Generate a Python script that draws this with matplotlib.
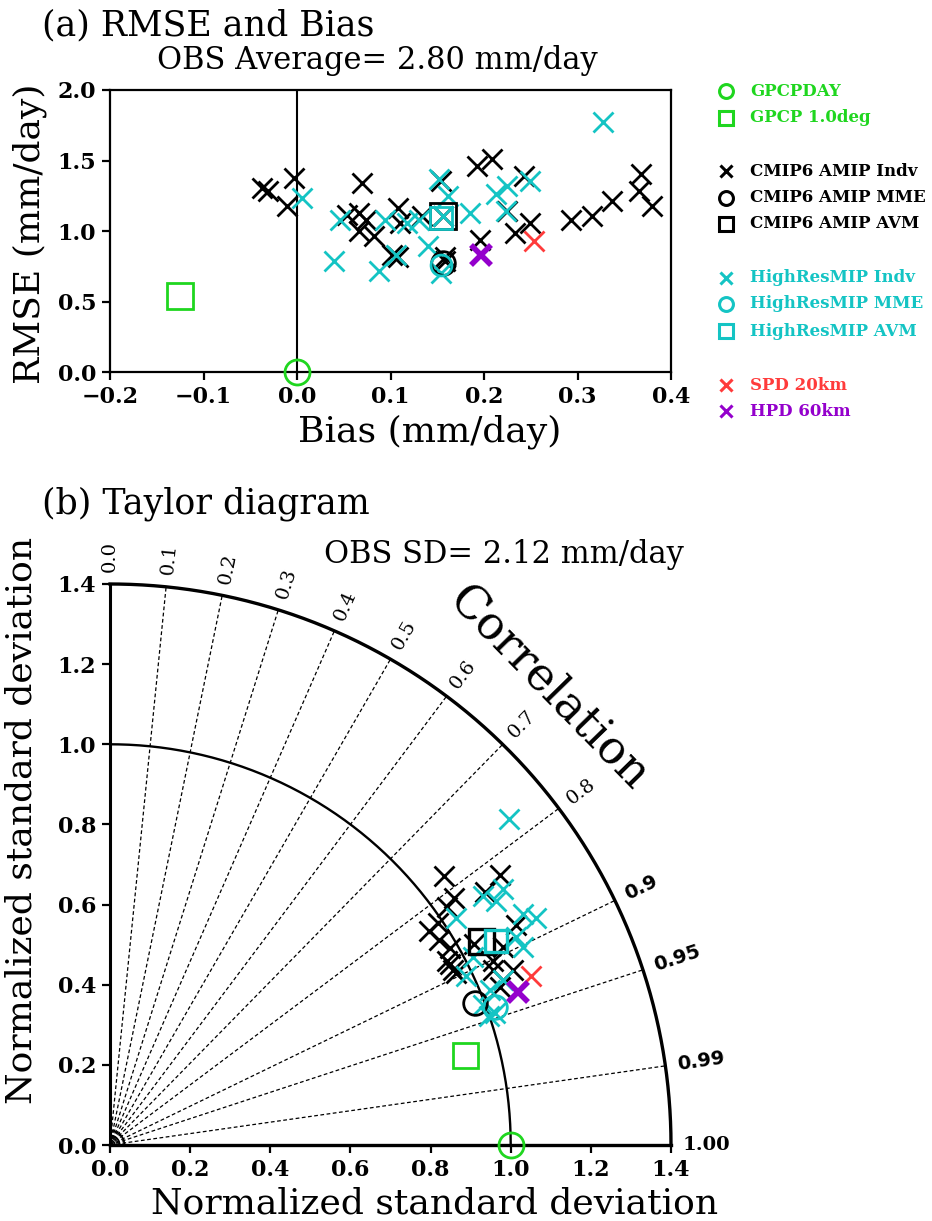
import numpy as np
import matplotlib.pyplot as plt

# ---------------- (a) RMSE and Bias data ----------------
cmip_bias = [-0.037, -0.031, -0.003, -0.011, 0.070, 0.054, 0.066, 0.074, 0.066, 0.082,
             0.108, 0.110, 0.102, 0.108, 0.134, 0.154, 0.158, 0.193, 0.209, 0.196,
             0.225, 0.233, 0.249, 0.243, 0.293, 0.315, 0.337, 0.368, 0.366, 0.380,
             0.156, 0.158]
cmip_rmse = [1.306, 1.283, 1.373, 1.176, 1.342, 1.116, 1.128, 1.081, 0.998, 0.962,
             1.164, 1.057, 0.831, 0.819, 1.105, 1.354, 0.819, 1.461, 1.508, 0.938,
             1.140, 0.986, 1.057, 1.390, 1.081, 1.105, 1.211, 1.401, 1.283, 1.176,
             1.105, 0.790]
hr_bias = [0.327, 0.005, 0.040, 0.046, 0.088, 0.094, 0.106, 0.118, 0.130, 0.140,
           0.152, 0.162, 0.154, 0.185, 0.213, 0.225, 0.223, 0.249, 0.156]
hr_rmse = [1.770, 1.235, 0.784, 1.081, 0.713, 1.081, 0.831, 1.057, 1.081, 0.891,
           1.366, 1.247, 0.701, 1.128, 1.259, 1.318, 1.140, 1.354, 1.105]
gpcpday_a = [0.0, 0.0]
gpcp1deg_a = [-0.125, 0.539]
cmip_mme_a = [0.156, 0.772]
cmip_avm_a = [0.156, 1.105]
hr_mme_a = [0.154, 0.760]
hr_avm_a = [0.154, 1.090]
spd_a = [0.253, 0.926]
hpd_a = [0.197, 0.831]

# ---------------- (b) Taylor diagram data (normalized SD, correlation) ----------------
cmip_sd = [1.070, 1.184, 1.056, 1.128, 1.028, 0.958, 0.990, 0.966, 0.982, 0.958,
           0.962, 0.962, 0.965, 1.153, 1.061, 1.097, 1.096, 1.049, 1.051, 1.038]
cmip_cor = [0.778, 0.822, 0.812, 0.829, 0.817, 0.830, 0.828, 0.849, 0.865, 0.877,
            0.883, 0.891, 0.896, 0.879, 0.901, 0.893, 0.917, 0.927, 0.910, 0.876]
hr_sd = [1.286, 1.119, 1.140, 1.169, 1.180, 1.204, 1.034, 1.138, 1.142, 1.020,
         1.063, 1.023, 0.995, 1.000, 1.015, 0.984]
hr_cor = [0.775, 0.832, 0.846, 0.838, 0.873, 0.882, 0.836, 0.890, 0.902, 0.888,
          0.922, 0.926, 0.936, 0.947, 0.946, 0.904]
gpcpday_t = [1.0, 1.0]
gpcp1deg_t = [0.913, 0.969]
cmip_mme_t = [0.976, 0.932]
cmip_avm_t = [1.056, 0.876]
hr_mme_t = [1.020, 0.941]
hr_avm_t = [1.091, 0.884]
spd_t = [1.131, 0.928]
hpd_t = [1.087, 0.936]

corr_ticks = [0.0, 0.1, 0.2, 0.3, 0.4, 0.5, 0.6, 0.7, 0.8, 0.9, 0.95, 0.99, 1.0]
corr_labels = ['0.0', '0.1', '0.2', '0.3', '0.4', '0.5', '0.6', '0.7', '0.8',
               '0.9', '0.95', '0.99', '1.00']

GREEN = '#1fd61f'
CYAN = '#14c4c4'
RED = '#ff3b3b'
PURPLE = '#9400cc'

W, H = 932, 1221
fig = plt.figure(figsize=(W / 100, H / 100), dpi=100)
SERIF = 'DejaVu Serif'


def rect(l, r, t, b):
    return [l / W, 1 - b / H, (r - l) / W, (b - t) / H]


def xy(sd, cor):
    sd = np.asarray(sd)
    cor = np.asarray(cor)
    return sd * cor, sd * np.sqrt(1 - cor ** 2)


# ---------------- panel (a) ----------------
ax = fig.add_axes(rect(110, 671, 90, 372))
ax.axvline(0, color='k', lw=1.5, zorder=1)
ax.plot(cmip_bias, cmip_rmse, 'x', color='k', ms=15, mew=2, ls='none', zorder=3)
ax.plot(hr_bias, hr_rmse, 'x', color=CYAN, ms=15, mew=2, ls='none', zorder=3)
ax.plot(*cmip_avm_a, 's', mfc='none', mec='k', ms=19, mew=2, zorder=4)
ax.plot(*hr_avm_a, 's', mfc='none', mec=CYAN, ms=16, mew=2, zorder=4)
ax.plot(*cmip_mme_a, 'o', mfc='none', mec='k', ms=17, mew=2, zorder=4)
ax.plot(*hr_mme_a, 'o', mfc='none', mec=CYAN, ms=15, mew=2, zorder=4)
ax.plot(*spd_a, 'x', color=RED, ms=15, mew=2, zorder=5)
ax.plot(*hpd_a, 'x', color=PURPLE, ms=15, mew=4, zorder=5)
ax.plot(*gpcp1deg_a, 's', mfc='none', mec=GREEN, ms=19, mew=2, zorder=5)
ax.plot(*gpcpday_a, 'o', mfc='none', mec=GREEN, ms=18, mew=2, zorder=5, clip_on=False)
ax.set_xlim(-0.2, 0.4)
ax.set_ylim(0, 2.0)
ax.set_xticks(np.arange(-0.2, 0.41, 0.1))
ax.set_yticks(np.arange(0, 2.01, 0.5))
ax.set_xticklabels(['\u22120.2', '\u22120.1', '0.0', '0.1', '0.2', '0.3', '0.4'])
ax.set_yticklabels(['0.0', '0.5', '1.0', '1.5', '2.0'])
for s in ax.spines.values():
    s.set_linewidth(1.6)
ax.tick_params(direction='out', length=6, width=1.6, pad=4)
for lab in ax.get_xticklabels() + ax.get_yticklabels():
    lab.set_fontfamily(SERIF)
    lab.set_fontweight('bold')
    lab.set_fontsize(16)

# ---------------- panel (b) Taylor ----------------
tx = fig.add_axes(rect(110, 671, 584, 1145))
tx.set_xlim(0, 1.4)
tx.set_ylim(0, 1.4)
tx.spines['top'].set_visible(False)
tx.spines['right'].set_visible(False)
tx.spines['left'].set_linewidth(2.2)
tx.spines['bottom'].set_linewidth(2.4)
tx.set_xticks(np.arange(0, 1.41, 0.2))
tx.set_yticks(np.arange(0, 1.41, 0.2))
tx.set_xticklabels(['%.1f' % v for v in np.arange(0, 1.41, 0.2)])
tx.set_yticklabels(['%.1f' % v for v in np.arange(0, 1.41, 0.2)])
tx.tick_params(direction='out', length=6, width=1.6, pad=4)
for lab in tx.get_xticklabels() + tx.get_yticklabels():
    lab.set_fontfamily(SERIF)
    lab.set_fontweight('bold')
    lab.set_fontsize(16)

th = np.linspace(0, np.pi / 2, 300)
tx.plot(1.4 * np.cos(th), 1.4 * np.sin(th), color='k', lw=2.4, clip_on=False)
tx.plot(np.cos(th), np.sin(th), color='k', lw=1.7)
for r in [0.012, 0.024, 0.036]:
    tx.plot(r * np.cos(th), r * np.sin(th), color='k', lw=1.3)
for c, lab in zip(corr_ticks, corr_labels):
    a = np.arccos(c)
    if 0 < c < 1:
        tx.plot([0, 1.4 * np.cos(a)], [0, 1.4 * np.sin(a)], color='k', lw=0.9,
                ls=(0, (3, 2)))
    if c >= 0.9 and c < 1:
        fam, fw = 'DejaVu Sans', 'bold'
    elif c == 1.0:
        fam, fw = SERIF, 'bold'
    else:
        fam, fw = SERIF, 'normal'
    tx.text(1.43 * np.cos(a), 1.43 * np.sin(a), lab, rotation=np.degrees(a),
            rotation_mode='anchor', ha='left', va='center', fontsize=14,
            family=fam, fontweight=fw, clip_on=False)

x, y = xy(cmip_sd, cmip_cor)
tx.plot(x, y, 'x', color='k', ms=14, mew=2, ls='none', zorder=3)
x, y = xy(hr_sd, hr_cor)
tx.plot(x, y, 'x', color=CYAN, ms=14, mew=2, ls='none', zorder=3)
tx.plot(*xy(*cmip_avm_t), 's', mfc='none', mec='k', ms=18, mew=2.4, zorder=4)
tx.plot(*xy(*hr_avm_t), 's', mfc='none', mec=CYAN, ms=16, mew=2.4, zorder=4)
tx.plot(*xy(*cmip_mme_t), 'o', mfc='none', mec='k', ms=17, mew=2, zorder=4)
tx.plot(*xy(*hr_mme_t), 'o', mfc='none', mec=CYAN, ms=17, mew=2, zorder=4)
tx.plot(*xy(*spd_t), 'x', color=RED, ms=14, mew=2, zorder=5)
tx.plot(*xy(*hpd_t), 'x', color=PURPLE, ms=14, mew=4, zorder=5)
tx.plot(*xy(*gpcp1deg_t), 's', mfc='none', mec=GREEN, ms=18, mew=2, zorder=5)
tx.plot(*xy(*gpcpday_t), 'o', mfc='none', mec=GREEN, ms=18, mew=2, zorder=5, clip_on=False)

# overlay axis in pixel coords for texts and legend, drawn on top
ov = fig.add_axes([0, 0, 1, 1], zorder=10)
ov.set_xlim(0, W)
ov.set_ylim(H, 0)
ov.axis('off')

ov.text(42, 25, '(a) RMSE and Bias', fontsize=25, family=SERIF, ha='left', va='center')
ov.text(377, 61, 'OBS Average= 2.80 mm/day', fontsize=22, family=SERIF, ha='center', va='center')
ov.text(430, 432, 'Bias (mm/day)', fontsize=26, family=SERIF, ha='center', va='center')
ov.text(30, 234, 'RMSE (mm/day)', fontsize=26, family=SERIF, ha='center', va='center', rotation=90)

# legend
leg = [
    ('o', GREEN, 'GPCPDAY', 91),
    ('s', GREEN, 'GPCP 1.0deg', 118),
    ('x', 'k', 'CMIP6 AMIP Indv', 171),
    ('o', 'k', 'CMIP6 AMIP MME', 198),
    ('s', 'k', 'CMIP6 AMIP AVM', 224),
    ('x', CYAN, 'HighResMIP Indv', 278),
    ('o', CYAN, 'HighResMIP MME', 304),
    ('s', CYAN, 'HighResMIP AVM', 331),
    ('x', RED, 'SPD 20km', 385),
    ('x', PURPLE, 'HPD 60km', 411),
]
for m, c, lab, yy in leg:
    if m == 'x':
        ov.plot(726, yy, 'x', color=c, ms=8, mew=2.2)
    else:
        ov.plot(726, yy, m, mfc='none', mec=c, ms=10, mew=2.2)
    ov.text(750, yy, lab, color=c, fontsize=12, family=SERIF, fontweight='bold',
            ha='left', va='center')

ov.text(42, 504, '(b) Taylor diagram', fontsize=25, family=SERIF, ha='left', va='center')
ov.text(504, 555, 'OBS SD= 2.12 mm/day', fontsize=22, family=SERIF, ha='center', va='center')
ov.text(549, 688, 'Correlation', fontsize=33, family=SERIF, ha='center', va='center',
        rotation=-45.7)
ov.text(435, 1203, 'Normalized standard deviation', fontsize=26, family=SERIF,
        ha='center', va='center')
ov.text(22, 820, 'Normalized standard deviation', fontsize=26, family=SERIF,
        ha='center', va='center', rotation=90)

fig.savefig('out.png', dpi=100)
